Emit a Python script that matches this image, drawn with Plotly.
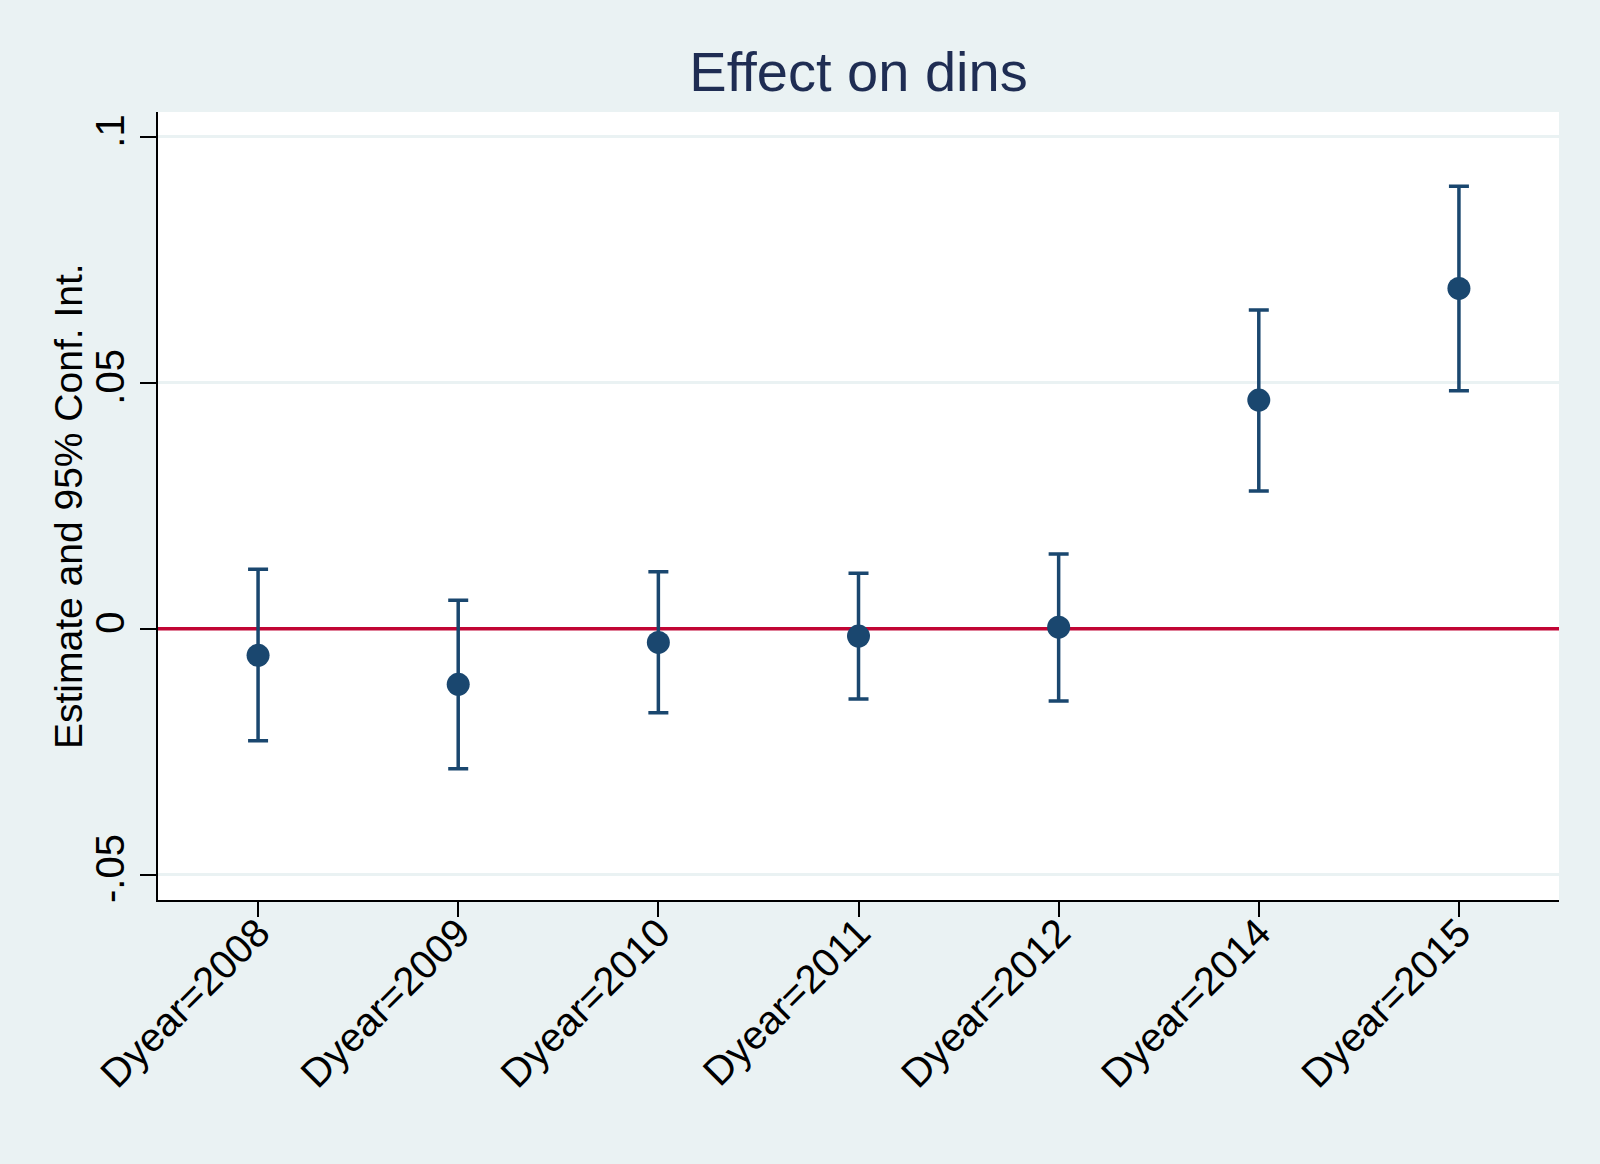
import plotly.graph_objects as go

categories = ["Dyear=2008", "Dyear=2009", "Dyear=2010", "Dyear=2011",
              "Dyear=2012", "Dyear=2014", "Dyear=2015"]
estimate = [-0.0054, -0.0113, -0.0028, -0.0015, 0.0003, 0.0465, 0.0692]
ci_upper = [0.0121, 0.0058, 0.0116, 0.0113, 0.0152, 0.0648, 0.0900]
ci_lower = [-0.0228, -0.0285, -0.0171, -0.0143, -0.0147, 0.0280, 0.0484]

y_tickvals = [-0.05, 0, 0.05, 0.1]
y_ticktext = ["-.05", "0", ".05", ".1"]
ref_value = 0

NAVY = "#1A476F"
BG = "#EAF2F3"
FONT = "Liberation Sans, Arial, sans-serif"

xidx = list(range(len(categories)))
xrange_ = [-0.5, len(categories) - 0.5]
err_plus = [u - e for u, e in zip(ci_upper, estimate)]
err_minus = [e - l for e, l in zip(estimate, ci_lower)]

fig = go.Figure()
# reference line at zero (drawn under the markers)
fig.add_trace(go.Scatter(
    x=xrange_, y=[ref_value, ref_value], mode="lines",
    line=dict(color="#C10534", width=3.5),
    showlegend=False, hoverinfo="skip",
))
fig.add_trace(go.Scatter(
    x=xidx, y=estimate, mode="markers",
    marker=dict(size=23, color=NAVY, line=dict(width=0)),
    error_y=dict(type="data", symmetric=False, array=err_plus,
                 arrayminus=err_minus, color=NAVY, thickness=3.5, width=10),
    showlegend=False, hoverinfo="skip",
))

fig.update_layout(
    width=1600, height=1164,
    paper_bgcolor=BG, plot_bgcolor="white",
    margin=dict(l=158, r=41, t=112, b=264, pad=0),
    font=dict(family=FONT, color="black"),
    title=dict(text="Effect on dins", font=dict(size=56, color="#1F2D53", family=FONT),
               x=0.5, xref="paper", xanchor="center",
               y=1 - 71 / 1164, yref="container", yanchor="middle"),
    xaxis=dict(
        range=xrange_,
        tickmode="array", tickvals=xidx, ticktext=categories,
        tickangle=-45, tickfont=dict(size=40, family=FONT, color="black"),
        ticklabelstandoff=-24,
        showgrid=False, zeroline=False,
        showline=True, linecolor="black", linewidth=2,
        ticks="outside", ticklen=15, tickwidth=2, tickcolor="black",
    ),
    yaxis=dict(
        range=[-0.05517, 0.10508],
        tickmode="array", tickvals=y_tickvals, ticktext=y_ticktext,
        tickangle=-90, tickfont=dict(size=40, family=FONT, color="black"),
        showgrid=True, gridcolor=BG, gridwidth=3,
        zeroline=False,
        showline=True, linecolor="black", linewidth=2,
        ticks="outside", ticklen=16, tickwidth=2, tickcolor="black",
    ),
    annotations=[dict(
        text="Estimate and 95% Conf. Int.", textangle=-90,
        xref="paper", yref="paper", x=(68 - 158) / 1401, y=0.5,
        xanchor="center", yanchor="middle", showarrow=False,
        font=dict(size=39, family=FONT, color="black"),
    )],
)

fig.write_html(
    "out.html",
    config={"displayModeBar": False},
    post_script="document.body.style.margin='0';document.body.style.background='#EAF2F3';",
)
